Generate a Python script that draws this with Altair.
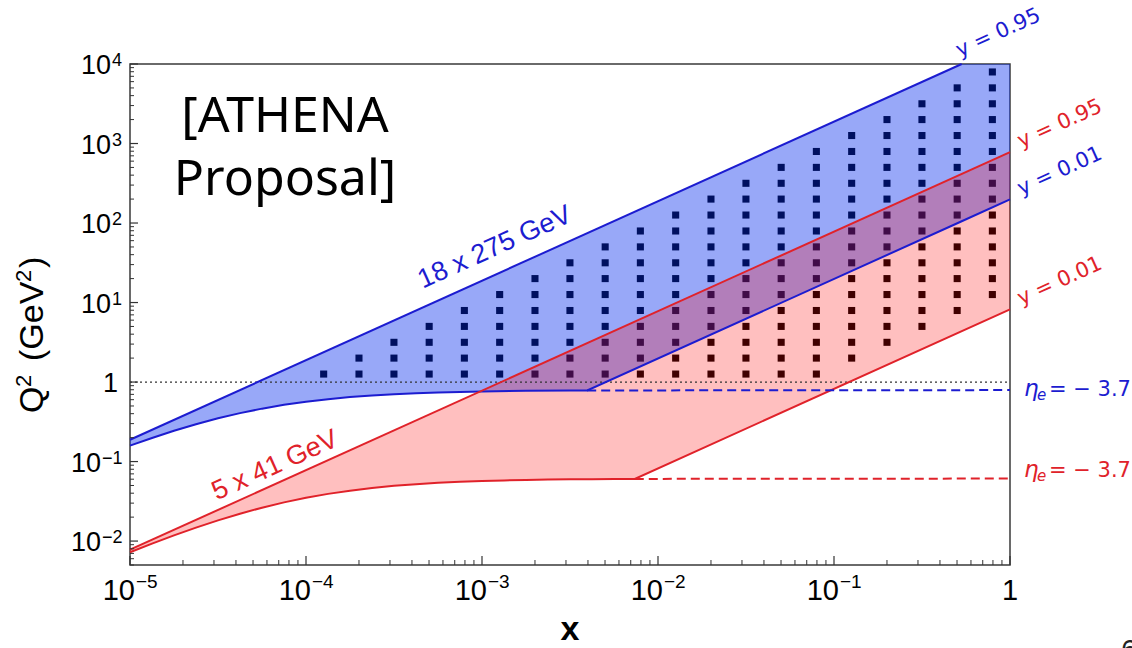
import altair as alt
import pandas as pd

# ---------------------------------------------------------------------------
# Kinematic coverage of the two beam configurations in the (x, Q^2) plane
# ---------------------------------------------------------------------------
BEAM_LABELS = ["18 x 275 GeV", "5 x 41 GeV"]
E_ELECTRON = [18.0, 5.0]          # GeV
E_PROTON = [275.0, 41.0]          # GeV
BEAM_LINE = ["#1c1cd0", "#e0222a"]

Y_HIGH = 0.95                     # inelasticity cuts
Y_LOW = 0.01
Q2_TOP = 1.0e4                    # top of the frame

# Edge of the eta_e = -3.7 electron acceptance (sampled points, GeV^2)
ETA_X_HI = [1e-5, 1.334e-5, 1.778e-5, 2.371e-5, 3.162e-5, 4.217e-5, 5.623e-5,
            7.499e-5, 1e-4, 1.334e-4, 1.778e-4, 2.371e-4, 3.162e-4, 4.217e-4,
            5.623e-4, 7.499e-4, 1e-3, 1.778e-3, 3.162e-3]
ETA_Q2_HI = [0.1584, 0.1981, 0.2437, 0.2948, 0.3497, 0.4065, 0.4629,
             0.5166, 0.5658, 0.6094, 0.6467, 0.6778, 0.7032, 0.7235,
             0.7396, 0.7521, 0.7617, 0.7748, 0.7823]
ETA_X_LO = [1e-5, 1.334e-5, 1.778e-5, 2.371e-5, 3.162e-5, 4.217e-5, 5.623e-5,
            7.499e-5, 1e-4, 1.334e-4, 1.778e-4, 2.371e-4, 3.162e-4, 4.217e-4,
            5.623e-4, 7.499e-4, 1e-3, 1.334e-3, 1.778e-3, 2.371e-3, 3.162e-3,
            4.217e-3, 5.623e-3]
ETA_Q2_LO = [0.00723, 0.00928, 0.01177, 0.01475, 0.01821, 0.02209, 0.02628,
             0.03065, 0.03502, 0.03921, 0.04307, 0.04650, 0.04946, 0.05194,
             0.05397, 0.05560, 0.05689, 0.05789, 0.05867, 0.05926, 0.05972,
             0.06006, 0.06033]
# where the eta edge meets the y = 0.01 line, and its level at x = 1
KINK_X = [3.96e-3, 7.38e-3]
KINK_Q2 = [0.784, 0.0605]
ETA_END_Q2 = [0.792, 0.0611]

# Pseudo-data bins (5 per decade in x and Q^2)
BIN_X = [1.26e-4, 2.00e-4, 3.16e-4, 5.01e-4, 7.94e-4, 1.26e-3, 2.00e-3,
         3.16e-3, 5.01e-3, 7.94e-3, 1.26e-2, 2.00e-2, 3.16e-2, 5.01e-2,
         7.94e-2, 0.126, 0.200, 0.316, 0.501, 0.794]
BIN_Q2 = [1.26, 2.00, 3.16, 5.01, 7.94, 12.6, 20.0, 31.6, 50.1, 79.4,
          126, 200, 316, 501, 794, 1260, 2000, 3160, 5010, 7940]
BIN_FIRST_ROW = [0, 0, 0, 0, 0, 0, 0, 0, 0, 0, 0, 0, 0, 0, 0, 1, 2, 3, 4, 5]
BIN_LAST_ROW = [0, 1, 2, 3, 4, 5, 6, 7, 8, 9, 10, 11, 12, 13, 14, 15, 16,
                17, 18, 19]

# Axis ticks
X_MAJOR = [1e-5, 1e-4, 1e-3, 1e-2, 1e-1, 1.0]
X_EXP = ["−5", "−4", "−3", "−2", "−1"]
Y_MAJOR = [1e-2, 1e-1, 1.0, 1e1, 1e2, 1e3, 1e4]
Y_EXP_NEG = ["−2", "−1"]
Y_EXP_POS = ["1", "2", "3", "4"]
MINOR_STEPS = [2, 3, 4, 5, 6, 7, 8, 9]

W, H = 880, 501
ANGLE = 335.7                     # slope of a y = const line on this grid

xs = alt.Scale(type="log", domain=[1e-5, 1.0], nice=False)
ys = alt.Scale(type="log", domain=[0.005, Q2_TOP], nice=False)


def X(field="x"):
    return alt.X(f"{field}:Q", scale=xs, axis=None)


def Y(field="q2"):
    return alt.Y(f"{field}:Q", scale=ys, axis=None)


# --- build tables ------------------------------------------------------------
eta_x = [ETA_X_HI, ETA_X_LO]
eta_q2 = [ETA_Q2_HI, ETA_Q2_LO]

area_tables, solid_rows, dash_rows = [], [], []
for b in range(2):
    s = 4.0 * E_ELECTRON[b] * E_PROTON[b]
    x_top = min(1.0, Q2_TOP / (Y_HIGH * s))
    # upper edge: y = 0.95
    solid_rows += [{"x": 1e-5, "q2": Y_HIGH * s * 1e-5, "key": f"{b}hi"},
                   {"x": x_top, "q2": Y_HIGH * s * x_top, "key": f"{b}hi"}]
    # lower edge: eta cut, then y = 0.01
    lower = list(zip(eta_x[b], eta_q2[b])) + [(KINK_X[b], KINK_Q2[b])]
    if x_top < 1.0:
        lower.append((x_top, Y_LOW * s * x_top))
    lower.append((1.0, Y_LOW * s * 1.0))
    solid_rows += [{"x": x, "q2": q, "key": f"{b}lo"} for x, q in lower]
    # eta cut continued past the kink
    dash_rows += [{"x": KINK_X[b], "q2": KINK_Q2[b], "key": f"{b}lo"},
                  {"x": 1.0, "q2": ETA_END_Q2[b], "key": f"{b}lo"}]
    area_tables.append(pd.DataFrame(
        [{"x": x, "bottom": q, "top": min(Y_HIGH * s * x, Q2_TOP)}
         for x, q in lower]))

solid_df = pd.DataFrame(solid_rows)
dash_df = pd.DataFrame(dash_rows)
line_color = alt.Color("key:N", legend=None,
                       scale=alt.Scale(domain=["0hi", "0lo", "1hi", "1lo"],
                                       range=[BEAM_LINE[0], BEAM_LINE[0],
                                              BEAM_LINE[1], BEAM_LINE[1]]))

bins_df = pd.DataFrame([{"x": BIN_X[c], "q2": BIN_Q2[r]}
                        for c in range(len(BIN_X))
                        for r in range(BIN_FIRST_ROW[c], BIN_LAST_ROW[c] + 1)])

# --- marks -------------------------------------------------------------------
squares = alt.Chart(bins_df).mark_square(size=50, color="black", opacity=1,
                                         filled=True).encode(x=X(), y=Y())

blue_fill = alt.Chart(area_tables[0]).mark_area(
    color="#0028ee", opacity=0.404).encode(x=X(), y=Y("top"), y2="bottom:Q")
red_fill = alt.Chart(area_tables[1]).mark_area(
    color="#ff0000", opacity=0.25).encode(x=X(), y=Y("top"), y2="bottom:Q")

unit_line = alt.Chart(pd.DataFrame({"x": [1e-5, 1.0], "q2": [1.0, 1.0]})).mark_line(
    color="#333333", strokeWidth=1.2, strokeDash=[2, 3]).encode(x=X(), y=Y())

solid = alt.Chart(solid_df).mark_line(strokeWidth=2).encode(
    x=X(), y=Y(), color=line_color, detail="key:N")
dashed = alt.Chart(dash_df).mark_line(strokeWidth=2, strokeDash=[9, 5]).encode(
    x=X(), y=Y(), color=line_color, detail="key:N")

# ticks pointing into the frame
x_minor = [m * d for d in X_MAJOR[:-1] for m in MINOR_STEPS]
y_minor = [m * 1e-3 for m in [5, 6, 7, 8, 9]] + \
          [m * d for d in Y_MAJOR[:-1] for m in MINOR_STEPS]
tick_col = "#333333"
xt_major = alt.Chart(pd.DataFrame({"x": X_MAJOR})).mark_rule(
    color=tick_col, strokeWidth=1.2).encode(x=X(), y=alt.value(H), y2=alt.value(H - 9))
xt_minor = alt.Chart(pd.DataFrame({"x": x_minor})).mark_rule(
    color=tick_col, strokeWidth=1).encode(x=X(), y=alt.value(H), y2=alt.value(H - 5))
yt_major = alt.Chart(pd.DataFrame({"q2": Y_MAJOR})).mark_rule(
    color=tick_col, strokeWidth=1.2).encode(y=Y(), x=alt.value(0), x2=alt.value(8))
yt_minor = alt.Chart(pd.DataFrame({"q2": y_minor})).mark_rule(
    color=tick_col, strokeWidth=1).encode(y=Y(), x=alt.value(0), x2=alt.value(4))

LAB_FONT = "Liberation Sans"
# x tick labels: "10" with a raised exponent, and a plain "1"
xl_df = pd.DataFrame({"x": X_MAJOR[:-1], "exp": X_EXP})
xl_base = alt.Chart(xl_df).mark_text(
    text="10", font=LAB_FONT, fontSize=29, align="right", baseline="alphabetic",
    dx=5, color="black").encode(x=X(), y=alt.value(H + 35))
xl_exp = alt.Chart(xl_df).mark_text(
    font=LAB_FONT, fontSize=19, align="left", baseline="alphabetic",
    dx=6, color="black").encode(x=X(), y=alt.value(H + 23), text="exp:N")
xl_one = alt.Chart(pd.DataFrame({"x": [1.0]})).mark_text(
    text="1", font=LAB_FONT, fontSize=29, align="center", baseline="alphabetic",
    color="black").encode(x=X(), y=alt.value(H + 35))

# y tick labels
yneg_df = pd.DataFrame({"q2": Y_MAJOR[:2], "exp": Y_EXP_NEG})
ypos_df = pd.DataFrame({"q2": Y_MAJOR[3:], "exp": Y_EXP_POS})
y_labels = []
for df, base_x in [(yneg_df, -29), (ypos_df, -19)]:
    y_labels.append(alt.Chart(df).mark_text(
        text="10", font=LAB_FONT, fontSize=27, align="right", baseline="alphabetic",
        dy=10, color="black").encode(y=Y(), x=alt.value(base_x)))
    y_labels.append(alt.Chart(df).mark_text(
        font=LAB_FONT, fontSize=18, align="left", baseline="alphabetic",
        dy=2, color="black").encode(y=Y(), x=alt.value(base_x + 1), text="exp:N"))
y_labels.append(alt.Chart(pd.DataFrame({"q2": [1.0]})).mark_text(
    text="1", font=LAB_FONT, fontSize=27, align="right", baseline="alphabetic",
    dy=10, color="black").encode(y=Y(), x=alt.value(-12)))

# beam labels along the y = 0.95 lines
beam_rows = []
for b, (xa, off) in enumerate([(1.352e-3, -25), (7.31e-5, -17)]):
    s = 4.0 * E_ELECTRON[b] * E_PROTON[b]
    beam_rows.append({"x": xa, "q2": Y_HIGH * s * xa, "label": BEAM_LABELS[b],
                      "key": f"{b}hi", "off": off})
beam_text = []
for row in beam_rows:
    beam_text.append(alt.Chart(pd.DataFrame([row])).mark_text(
        font=LAB_FONT, fontSize=27, angle=ANGLE, align="center", baseline="middle",
        dy=row["off"]).encode(x=X(), y=Y(), text="label:N",
                              color=line_color))

# y-cut labels at the ends of the lines
ycut_rows = []
for b in range(2):
    s = 4.0 * E_ELECTRON[b] * E_PROTON[b]
    x_top = min(1.0, Q2_TOP / (Y_HIGH * s))
    ycut_rows.append({"x": x_top, "q2": Y_HIGH * s * x_top,
                      "label": f"y = {Y_HIGH}", "key": f"{b}hi",
                      "edge": "top" if x_top < 1.0 else "side"})
    ycut_rows.append({"x": 1.0, "q2": Y_LOW * s, "label": f"y = {Y_LOW}",
                      "key": f"{b}lo", "edge": "side"})
ycut_df = pd.DataFrame(ycut_rows)
ycut_top = alt.Chart(ycut_df[ycut_df.edge == "top"]).mark_text(
    font="DejaVu Sans", fontSize=21, angle=ANGLE, align="left",
    baseline="alphabetic", dx=1, dy=-7).encode(
    x=X(), y=Y(), text="label:N", color=line_color)
ycut_side = alt.Chart(ycut_df[ycut_df.edge == "side"]).mark_text(
    font="DejaVu Sans", fontSize=21, angle=ANGLE, align="left",
    baseline="alphabetic", dx=12, dy=1).encode(
    x=X(), y=Y(), text="label:N", color=line_color)

# eta_e labels next to the dashed lines
eta_df = pd.DataFrame({"x": [1.0, 1.0], "q2": ETA_END_Q2, "key": ["0lo", "1lo"]})
eta_text = []
for b, shift in enumerate([6, -2]):
    d = eta_df.iloc[[b]]
    eta_text.append(alt.Chart(d).mark_text(
        text="η", font="DejaVu Sans", fontStyle="italic", fontSize=23,
        align="left", baseline="alphabetic", dx=14, dy=shift).encode(
        x=X(), y=Y(), color=line_color))
    eta_text.append(alt.Chart(d).mark_text(
        text="e", font="DejaVu Sans", fontStyle="italic", fontSize=15,
        align="left", baseline="alphabetic", dx=27, dy=shift + 4).encode(
        x=X(), y=Y(), color=line_color))
    eta_text.append(alt.Chart(d).mark_text(
        text="= − 3.7", font="DejaVu Sans", fontSize=21,
        align="left", baseline="alphabetic", dx=39, dy=shift).encode(
        x=X(), y=Y(), color=line_color))

one = pd.DataFrame({"k": [0]})
athena_1 = alt.Chart(one).mark_text(
    text="[ATHENA", font="Noto Sans", fontSize=50, align="center",
    baseline="alphabetic", color="black").encode(x=alt.value(155), y=alt.value(68))
athena_2 = alt.Chart(one).mark_text(
    text="Proposal]", font="Noto Sans", fontSize=50, align="center",
    baseline="alphabetic", color="black").encode(x=alt.value(155), y=alt.value(131))

x_title = alt.Chart(one).mark_text(
    text="x", font=LAB_FONT, fontWeight="bold", fontSize=34, align="center",
    baseline="alphabetic", color="black").encode(x=alt.value(W / 2), y=alt.value(H + 75))

# vertical axis title, built piece by piece so the exponents sit raised
yt_pieces = [("Q", 34, 0, 413), ("2", 22, -12, 387), ("(GeV", 34, 0, 361),
             ("2", 22, -12, 282), (")", 34, 0, 268)]
y_title = []
for txt, size, lift, ypix in yt_pieces:
    y_title.append(alt.Chart(one).mark_text(
        text=txt, font=LAB_FONT, fontSize=size, angle=270, align="left",
        baseline="alphabetic", color="black").encode(
        x=alt.value(43 - 130 + lift), y=alt.value(ypix - 64)))

page_no = alt.Chart(one).mark_text(
    text="6", font=LAB_FONT, fontSize=30, align="left", baseline="top",
    color="#222222").encode(x=alt.value(991), y=alt.value(572))

chart = alt.layer(
    squares, blue_fill, red_fill, unit_line, solid, dashed,
    xt_major, xt_minor, yt_major, yt_minor,
    xl_base, xl_exp, xl_one, *y_labels,
    *beam_text, ycut_top, ycut_side, *eta_text,
    athena_1, athena_2, x_title, *y_title, page_no,
).properties(
    width=W, height=H,
    autosize=alt.AutoSizeParams(type="none"),
    padding={"left": 130, "top": 64, "right": 122, "bottom": 83},
    background="white",
).configure_view(stroke="#3a3a3a", strokeWidth=1.5)

chart.save("out.html", embed_options={"renderer": "svg", "actions": False})
